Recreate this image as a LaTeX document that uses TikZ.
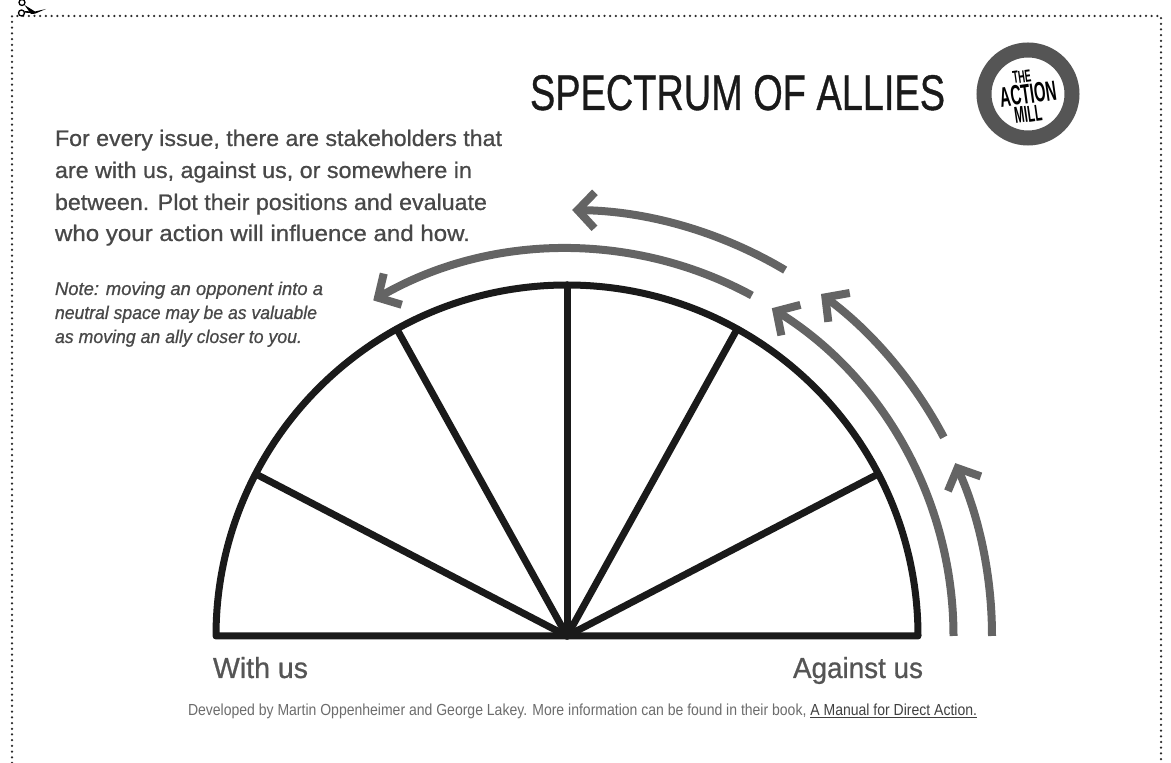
\documentclass[tikz,border=0pt]{standalone}
\usepackage{fontspec}
\setmainfont{Liberation Sans}
\newfontfamily\heavy[FakeBold=0.8]{Liberation Sans}
\newfontfamily\heavyit[FakeBold=0.8,UprightFont=*,ItalicFont=* Italic]{Liberation Sans}
\usetikzlibrary{arrows.meta}
\definecolor{inkc}{HTML}{1A1A1A}
\definecolor{arrc}{HTML}{646464}
\definecolor{textc}{HTML}{484848}
\definecolor{labc}{HTML}{555555}
\definecolor{footc}{HTML}{6C6C6C}
\definecolor{ulc}{HTML}{404040}
\definecolor{ringc}{HTML}{555555}
\definecolor{dotc}{HTML}{2A2A2A}
\newcommand{\fitw}[2]{\resizebox{#1}{\height}{#2}}
\begin{document}
\begin{tikzpicture}[x=1pt,y=1pt,
  txt/.style={anchor=base west,inner sep=0pt,outer sep=0pt},
  inkline/.style={draw=inkc,line width=7pt,line join=round,line cap=round},
  arr/.style={draw=arrc,line width=8pt,-{Straight Barb[length=17pt,width=36pt,sharp]}},
  dotline/.style={draw=dotc,line width=2.5pt,line cap=round,dash pattern=on 0pt off 5.7pt},
  logotxt/.style={inner sep=0pt,outer sep=0pt,text=black,font=\bfseries,transform shape}]
\useasboundingbox (0,0) rectangle (1171,763);
% cut border
\coordinate (b1) at (12,0);
\coordinate (b2) at (12,747);
\coordinate (b3) at (1161,747);
\coordinate (b4) at (1161,0);
\draw[dotline] (b1) -- (b2) -- (b3) -- (b4);
% scissors
\coordinate (r1) at (22,760.5);
\coordinate (r2) at (21.5,750);
\draw[black,line width=1.3pt] (r1) circle[radius=3];
\draw[black,line width=1.3pt] (r2) circle[radius=3];
\fill[black] (24.5,758) -- (35,751.5) -- (46,754) -- (35,749.3) -- (31,749) -- cycle;
\draw[black,line width=1.6pt] (24.5,751.2) -- (33,750.6);
% semicircle
\coordinate (C) at (567,127);
\coordinate (L) at ([shift={(180:351)}]C);
\coordinate (R) at ([shift={(0:351)}]C);
\draw[inkline] (L) -- (R) arc[start angle=0,end angle=180,radius=351] -- cycle;
\foreach \a [count=\i] in {27.5,61,90,119,152.5}{
  \coordinate (s\i) at ([shift={(\a:351)}]C);
  \draw[inkline] (C) -- (s\i);
}
% arrows
\coordinate (i1) at ([shift={(0:386.5)}]C);
\draw[arr] (i1) arc[start angle=0,end angle=58,radius=386.5];
\coordinate (i2) at ([shift={(61.5:387.5)}]C);
\draw[arr] (i2) arc[start angle=61.5,end angle=120,radius=387.5];
\coordinate (o1) at ([shift={(0:425)}]C);
\draw[arr] (o1) arc[start angle=0,end angle=24,radius=425];
\coordinate (o2) at ([shift={(27.8:426)}]C);
\draw[arr] (o2) arc[start angle=27.8,end angle=53.4,radius=426];
\coordinate (o3) at ([shift={(59.2:426)}]C);
\draw[arr] (o3) arc[start angle=59.2,end angle=89.3,radius=426];
% title
\node[txt,text=inkc,font=\heavy] (title) at (530,653) {\resizebox{415pt}{35pt}{SPECTRUM OF ALLIES}};
% logo
\coordinate (lg) at (1028,669);
\draw[draw=ringc,line width=15pt] (lg) circle[radius=44];
\begin{scope}[shift={(lg)},rotate=8]
  \node[logotxt] (the) at (-3.7,18) {\resizebox{18.5pt}{12pt}{THE}};
  \node[logotxt] (action) at (0,0) {\resizebox{57pt}{19.5pt}{ACTION}};
  \node[logotxt] (mill) at (-2.6,-20) {\resizebox{27.5pt}{16pt}{MILL}};
\end{scope}
% paragraph
\begin{scope}[every node/.style={txt,text=textc,font=\fontsize{22.5}{26}\heavy}]
  \node (p1) at (55,617) {\fitw{447pt}{For every issue, there are stakeholders that}};
  \node (p2) at (55,585) {\fitw{417pt}{are with us, against us, or somewhere in}};
  \node (p3) at (55,553) {\fitw{432pt}{between. Plot their positions and evaluate}};
  \node (p4) at (55,522) {\fitw{415pt}{who your action will influence and how.}};
\end{scope}
% note
\begin{scope}[every node/.style={txt,text=textc,font=\fontsize{18.5}{22}\heavyit\itshape}]
  \node (n1) at (55,468) {\fitw{268pt}{Note: moving an opponent into a}};
  \node (n2) at (55,444) {\fitw{262pt}{neutral space may be as valuable}};
  \node (n3) at (55,420) {\fitw{247pt}{as moving an ally closer to you.}};
\end{scope}
% axis labels
\node[txt,text=labc,font=\fontsize{29}{32}\heavy] (with) at (213,85) {\fitw{95pt}{With us}};
\node[txt,text=labc,font=\fontsize{29}{32}\heavy] (against) at (793,85) {\fitw{130pt}{Against us}};
% footer
\node[txt,text=footc,font=\fontsize{16}{18}\selectfont] (foot) at (188,47) {\fitw{789pt}{Developed by Martin Oppenheimer and George Lakey. More information can be found in their book, \textcolor{ulc}{\underline{A Manual for Direct Action.}}}};
\end{tikzpicture}
\end{document}
